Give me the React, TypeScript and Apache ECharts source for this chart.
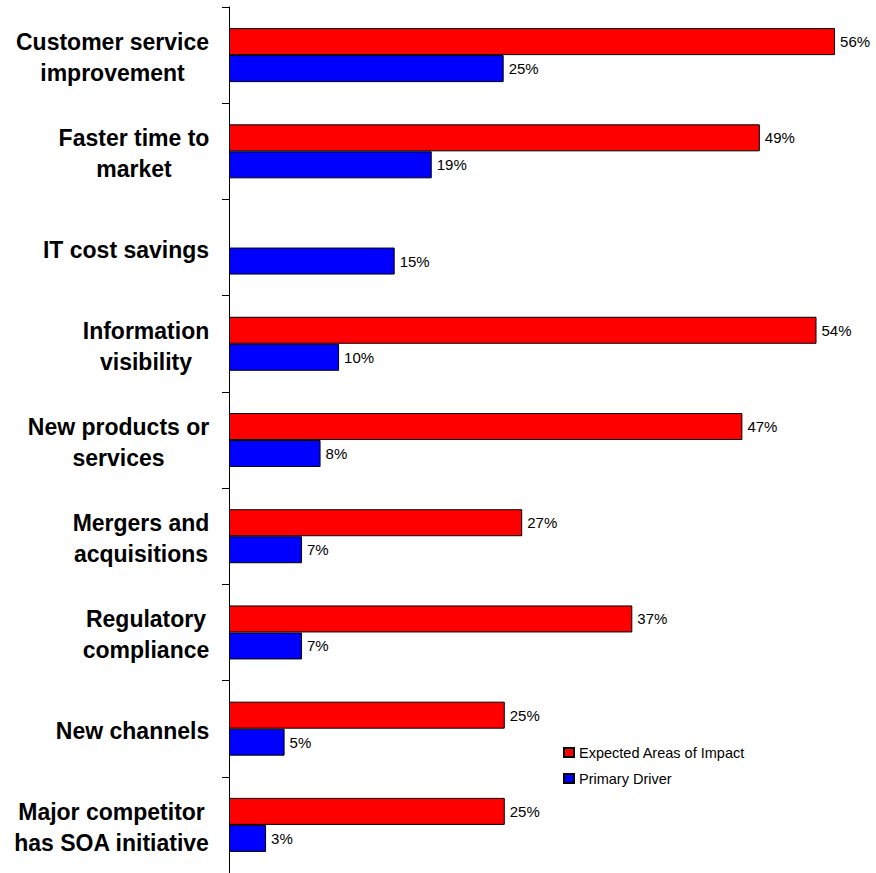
import React, { useEffect, useRef } from "react";
import * as echarts from "echarts";

const categories = [
  "Customer service\nimprovement",
  "Faster time to\nmarket",
  "IT cost savings",
  "Information\nvisibility",
  "New products or\nservices",
  "Mergers and\nacquisitions",
  "Regulatory\ncompliance",
  "New channels",
  "Major competitor\nhas SOA initiative",
];
const seriesNames = ["Expected Areas of Impact", "Primary Driver"];
const expectedImpact: (number | null)[] = [55.6, 48.7, null, 53.9, 47.1, 26.9, 37.0, 25.3, 25.3];
const primaryDriver: number[] = [25.2, 18.6, 15.2, 10.1, 8.4, 6.7, 6.7, 5.1, 3.4];

const FONT = "'Liberation Sans', Arial, Helvetica, sans-serif";
const CAT_SIZE = 23;

function measure(text: string, font: string): number {
  const c = document.createElement("canvas");
  const ctx = c.getContext("2d");
  if (!ctx) return text.length * 12;
  ctx.font = font;
  return ctx.measureText(text).width;
}

export default function App() {
  const ref = useRef<HTMLDivElement>(null);
  useEffect(() => {
    if (!ref.current) return;
    const chart = echarts.init(ref.current, undefined, { renderer: "svg" });
    const rich: Record<string, any> = {};
    categories.forEach((c, i) => {
      const w = Math.max(
        ...c.split("\n").map((l) => measure(l, `bold ${CAT_SIZE}px 'Liberation Sans'`))
      );
      rich["r" + i] = {
        width: Math.ceil(w) + 1,
        align: "center",
        fontSize: CAT_SIZE,
        fontWeight: "bold",
        fontFamily: FONT,
        color: "#000",
        lineHeight: 31,
      };
    });
    const scale = 10.9;
    const xMax = 58;
    const labelCfg = {
      show: true,
      position: "right",
      distance: 5,
      color: "#000",
      fontSize: 15,
      fontFamily: FONT,
      formatter: (p: any) => Math.round(p.value) + "%",
    };
    chart.setOption({
      animation: false,
      backgroundColor: "#fff",
      textStyle: { fontFamily: FONT },
      grid: { left: 229, top: 7, width: xMax * scale, height: 868.5, containLabel: false },
      legend: {
        orient: "vertical",
        left: 563,
        top: 745,
        padding: 0,
        itemWidth: 10,
        itemHeight: 9,
        itemGap: 11,
        icon: "rect",
        textStyle: { fontSize: 14.5, color: "#000", fontFamily: FONT },
        data: seriesNames,
      },
      xAxis: {
        type: "value",
        min: 0,
        max: xMax,
        show: false,
        splitLine: { show: false },
      },
      yAxis: {
        type: "category",
        inverse: true,
        data: categories,
        axisLine: { show: true, lineStyle: { color: "#000", width: 1 } },
        axisTick: { show: true, length: 7, lineStyle: { color: "#000" } },
        axisLabel: {
          margin: 19,
          padding: [5, 0, 0, 0],
          formatter: (v: string, i: number) =>
            v
              .split("\n")
              .map((l) => `{r${i}|${l}}`)
              .join("\n"),
          rich,
        },
      },
      series: [
        {
          name: seriesNames[0],
          type: "bar",
          data: expectedImpact.map((v) => (v === null ? "-" : v)),
          barWidth: 27,
          barGap: "0%",
          itemStyle: { color: "#ff0000", borderColor: "#000", borderWidth: 1 },
          label: labelCfg,
        },
        {
          name: seriesNames[1],
          type: "bar",
          data: primaryDriver,
          barWidth: 27,
          barGap: "0%",
          itemStyle: { color: "#0000ff", borderColor: "#000", borderWidth: 1 },
          label: labelCfg,
        },
      ],
    });
    return () => chart.dispose();
  }, []);
  return (
    <div
      ref={ref}
      style={{ position: "absolute", left: 0, top: 0, width: 876, height: 873 }}
    />
  );
}
